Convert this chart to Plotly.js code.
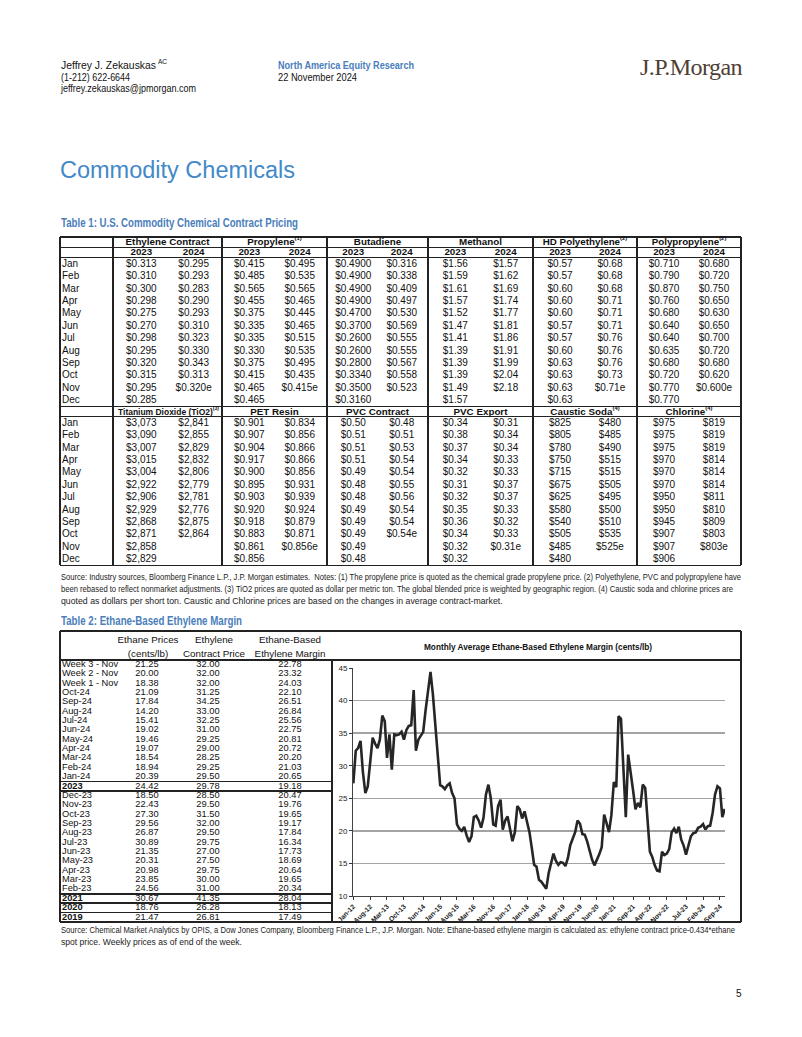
<!DOCTYPE html>
<html><head><meta charset="utf-8">
<script src="https://cdn.plot.ly/plotly-3.0.1.min.js"></script>
<style>
body{margin:0;background:#fff;width:802px;height:1037px;position:relative;overflow:hidden;
 font-family:"Liberation Sans Narrow","Arial Narrow","Liberation Sans",Arial,sans-serif;color:#111;}
.t{position:absolute;white-space:nowrap;line-height:1;}
.ln{position:absolute;background:#222;}
sup{font-size:60%;vertical-align:top;position:relative;top:-1px;}
</style></head><body>
<div id="page"></div>
<div id="chart" style="position:absolute;left:333px;top:661px;width:408px;height:264px;"></div>
<script>
// ---------------- DATA ----------------
const months = ["Jan","Feb","Mar","Apr","May","Jun","Jul","Aug","Sep","Oct","Nov","Dec"];
const yearsHdr = ["2023","2024"];
const topGroups = ["Ethylene Contract","Propylene<sup>(1)</sup>","Butadiene","Methanol","HD Polyethylene<sup>(2)</sup>","Polypropylene<sup>(2)</sup>"];
const bottomGroups = ["Titanium Dioxide (TiO2)<sup>(3)</sup>","PET Resin","PVC Contract","PVC Export","Caustic Soda<sup>(4)</sup>","Chlorine<sup>(4)</sup>"];

const ethylene2023 = ["$0.313","$0.310","$0.300","$0.298","$0.275","$0.270","$0.298","$0.295","$0.320","$0.315","$0.295","$0.285"];
const ethylene2024 = ["$0.295","$0.293","$0.283","$0.290","$0.293","$0.310","$0.323","$0.330","$0.343","$0.313","$0.320e",""];
const propylene2023 = ["$0.415","$0.485","$0.565","$0.455","$0.375","$0.335","$0.335","$0.330","$0.375","$0.415","$0.465","$0.465"];
const propylene2024 = ["$0.495","$0.535","$0.565","$0.465","$0.445","$0.465","$0.515","$0.535","$0.495","$0.435","$0.415e",""];
const butadiene2023 = ["$0.4900","$0.4900","$0.4900","$0.4900","$0.4700","$0.3700","$0.2600","$0.2600","$0.2800","$0.3340","$0.3500","$0.3160"];
const butadiene2024 = ["$0.316","$0.338","$0.409","$0.497","$0.530","$0.569","$0.555","$0.555","$0.567","$0.558","$0.523",""];
const methanol2023 = ["$1.56","$1.59","$1.61","$1.57","$1.52","$1.47","$1.41","$1.39","$1.39","$1.39","$1.49","$1.57"];
const methanol2024 = ["$1.57","$1.62","$1.69","$1.74","$1.77","$1.81","$1.86","$1.91","$1.99","$2.04","$2.18",""];
const hdpe2023 = ["$0.57","$0.57","$0.60","$0.60","$0.60","$0.57","$0.57","$0.60","$0.63","$0.63","$0.63","$0.63"];
const hdpe2024 = ["$0.68","$0.68","$0.68","$0.71","$0.71","$0.71","$0.76","$0.76","$0.76","$0.73","$0.71e",""];
const pp2023 = ["$0.710","$0.790","$0.870","$0.760","$0.680","$0.640","$0.640","$0.635","$0.680","$0.720","$0.770","$0.770"];
const pp2024 = ["$0.680","$0.720","$0.750","$0.650","$0.630","$0.650","$0.700","$0.720","$0.680","$0.620","$0.600e",""];

const tio2_2023 = ["$3,073","$3,090","$3,007","$3,015","$3,004","$2,922","$2,906","$2,929","$2,868","$2,871","$2,858","$2,829"];
const tio2_2024 = ["$2,841","$2,855","$2,829","$2,832","$2,806","$2,779","$2,781","$2,776","$2,875","$2,864","",""];
const pet2023 = ["$0.901","$0.907","$0.904","$0.917","$0.900","$0.895","$0.903","$0.920","$0.918","$0.883","$0.861","$0.856"];
const pet2024 = ["$0.834","$0.856","$0.866","$0.866","$0.856","$0.931","$0.939","$0.924","$0.879","$0.871","$0.856e",""];
const pvcContract2023 = ["$0.50","$0.51","$0.51","$0.51","$0.49","$0.48","$0.48","$0.49","$0.49","$0.49","$0.49","$0.48"];
const pvcContract2024 = ["$0.48","$0.51","$0.53","$0.54","$0.54","$0.55","$0.56","$0.54","$0.54","$0.54e","",""];
const pvcExport2023 = ["$0.34","$0.38","$0.37","$0.34","$0.32","$0.31","$0.32","$0.35","$0.36","$0.34","$0.32","$0.32"];
const pvcExport2024 = ["$0.31","$0.34","$0.34","$0.33","$0.33","$0.37","$0.37","$0.33","$0.32","$0.33","$0.31e",""];
const caustic2023 = ["$825","$805","$780","$750","$715","$675","$625","$580","$540","$505","$485","$480"];
const caustic2024 = ["$480","$485","$490","$515","$515","$505","$495","$500","$510","$535","$525e",""];
const chlorine2023 = ["$975","$975","$975","$970","$970","$970","$950","$950","$945","$907","$907","$906"];
const chlorine2024 = ["$819","$819","$819","$814","$814","$814","$811","$810","$809","$803","$803e",""];

const t2Labels = ["Week 3 - Nov","Week 2 - Nov","Week 1 - Nov","Oct-24","Sep-24","Aug-24","Jul-24","Jun-24","May-24","Apr-24","Mar-24","Feb-24","Jan-24","2023","Dec-23","Nov-23","Oct-23","Sep-23","Aug-23","Jul-23","Jun-23","May-23","Apr-23","Mar-23","Feb-23","2021","2020","2019"];
const t2Ethane = ["21.25","20.00","18.38","21.09","17.84","14.20","15.41","19.02","19.46","19.07","18.54","18.94","20.39","24.42","18.50","22.43","27.30","29.56","26.87","30.89","21.35","20.31","20.98","23.85","24.56","30.67","18.76","21.47"];
const t2Ethylene = ["32.00","32.00","32.00","31.25","34.25","33.00","32.25","31.00","29.25","29.00","28.25","29.25","29.50","29.78","28.50","29.50","31.50","32.00","29.50","29.75","27.00","27.50","29.75","30.00","31.00","41.35","26.28","26.81"];
const t2Margin = ["22.78","23.32","24.03","22.10","26.51","26.84","25.56","22.75","20.81","20.72","20.20","21.03","20.65","19.18","20.47","19.76","19.65","19.17","17.84","16.34","17.73","18.69","20.64","19.65","20.34","28.04","18.13","17.49"];
const t2Bold = ["2023","2021","2020","2019"];

// monthly average margin, Jan-12 .. Nov-24 (cents/lb)
const margin2012 = [27.3,32.3,32.7,33.8,29.0,25.8,26.8,31.0,34.3,33.4,32.7,34.0];
const margin2013 = [37.7,36.8,31.2,34.8,29.4,34.8,34.7,34.8,35.2,34.0,35.5,36.1];
const margin2014 = [36.2,41.6,32.3,34.0,34.5,35.2,38.5,41.5,44.4,41.0,36.0,31.0];
const margin2015 = [27.0,26.8,26.4,27.0,27.3,25.8,25.0,21.0,20.3,20.0,20.6,19.3];
const margin2016 = [18.3,19.2,22.1,22.3,21.6,20.5,22.0,25.6,27.1,25.0,21.0,20.8];
const margin2017 = [23.8,24.8,20.2,21.6,22.2,20.3,18.4,19.8,23.8,23.3,21.9,23.0];
const margin2018 = [21.5,19.8,17.5,14.8,14.5,12.5,12.2,11.6,11.1,13.5,15.2,16.5];
const margin2019 = [15.4,14.8,15.2,15.1,14.6,15.8,17.8,18.8,19.8,21.6,21.1,19.5];
const margin2020 = [19.4,18.3,17.0,15.6,14.7,15.5,16.4,17.5,22.5,21.2,19.8,22.4];
const margin2021 = [27.5,26.7,37.6,37.2,29.0,22.1,31.7,29.3,26.2,23.3,24.3,23.6];
const margin2022 = [27.1,26.6,22.5,16.8,16.0,14.7,13.9,13.8,16.8,16.3,16.5,17.2];
const margin2023 = [19.8,20.34,19.65,20.64,18.69,17.73,16.34,17.84,19.17,19.65,19.76,20.47];
const margin2024 = [20.65,21.03,20.20,20.72,20.81,22.75,25.56,26.84,26.51,22.10,23.38];
const tickLabels = ["Jan-12","Aug-12","Mar-13","Oct-13","Jun-14","Jan-15","Aug-15","Mar-16","Nov-16","Jun-17","Jan-18","Aug-18","Apr-19","Nov-19","Jun-20","Jan-21","Sep-21","Apr-22","Nov-22","Jul-23","Feb-24","Sep-24"];

// ---------------- PAGE ----------------
const page = document.getElementById('page');
function T(x, yc, html, o){
  o = o || {};
  const fs = o.fs || 10;
  const d = document.createElement('div');
  d.className = 't';
  d.innerHTML = html;
  d.style.fontSize = fs + 'px';
  if (o.family) d.style.fontFamily = o.family;
  if (o.bold) d.style.fontWeight = 'bold';
  if (o.color) d.style.color = o.color;
  if (o.ls) d.style.letterSpacing = o.ls;
  page.appendChild(d);
  d.style.top = (yc - fs*0.55) + 'px';
  let k = o.k;
  if (o.sx) k = o.sx / d.getBoundingClientRect().width;
  if (k){ // horizontal condensing factor
    const w = d.getBoundingClientRect().width * k;
    d.style.transformOrigin = '0 50%';
    d.style.transform = 'scaleX(' + k + ')';
    d.style.left = (o.center ? x - w/2 : x) + 'px';
    d._k = k;
  } else {
    d.style.left = x + 'px';
    if (o.center) d.style.transform = 'translateX(-50%)';
  }
  return d;
}
function L(x1, y1, x2, y2, w, c){
  const d = document.createElement('div');
  d.className = 'ln';
  w = w || 1;
  if (y1 === y2){ d.style.left = x1+'px'; d.style.top = (y1 - w/2)+'px'; d.style.width = (x2-x1)+'px'; d.style.height = w+'px'; }
  else { d.style.left = (x1 - w/2)+'px'; d.style.top = y1+'px'; d.style.width = w+'px'; d.style.height = (y2-y1)+'px'; }
  if (c) d.style.background = c;
  page.appendChild(d);
}
const BLUE = '#4a7ebb';
const SANS = '"Liberation Sans",Arial,sans-serif';

// header
T(61, 66, 'Jeffrey J. Zekauskas', {fs:10.5, sx:95});
T(158, 62.5, 'AC', {fs:6.5});
T(61, 77.5, '(1-212) 622-6644', {fs:10.5, sx:69});
T(61, 89, 'jeffrey.zekauskas@jpmorgan.com', {fs:10.5, sx:135});
T(278, 66, 'North America Equity Research', {fs:10.5, bold:true, color:BLUE, sx:136});
T(278, 77.5, '22 November 2024', {fs:10.5, sx:79});
T(640, 68, 'J.P.Morgan', {fs:24, family:'"Liberation Serif","DejaVu Serif",serif', color:'#4e3f36', ls:'-0.6px', sx:102});
T(60, 172, 'Commodity Chemicals', {fs:23.5, family:SANS, color:'#4389c8'});

// ----- Table 1 -----
T(61, 224, 'Table 1: U.S. Commodity Chemical Contract Pricing', {fs:12, bold:true, color:BLUE, sx:237});
const xb = [60, 113, 222, 327, 428, 533, 637, 741];
const t1Top = 237, gh = 247, yh = 257.5, rh = 12.4;
const upperEnd = yh + 12*rh;            // 406.3
const lowerHdrEnd = upperEnd + 10.2;    // 416.5
const t1Bottom = lowerHdrEnd + 12*rh;   // 565.3
const topCols = [[ethylene2023,ethylene2024],[propylene2023,propylene2024],[butadiene2023,butadiene2024],[methanol2023,methanol2024],[hdpe2023,hdpe2024],[pp2023,pp2024]];
const botCols = [[tio2_2023,tio2_2024],[pet2023,pet2024],[pvcContract2023,pvcContract2024],[pvcExport2023,pvcExport2024],[caustic2023,caustic2024],[chlorine2023,chlorine2024]];

L(60, t1Top, 741, t1Top, 1.6);
L(60, t1Bottom, 741, t1Bottom, 1.6);
xb.forEach((x,i)=> L(x, t1Top, x, t1Bottom, (i===1)?1.3:1.6));
L(60, gh, 741, gh, 1);
L(60, yh, 741, yh, 1.6);
L(60, upperEnd, 741, upperEnd, 1.6);
L(60, lowerHdrEnd, 741, lowerHdrEnd, 1);

for (let g=0; g<6; g++){
  const x0 = xb[g+1], x1 = xb[g+2], mid = (x0+x1)/2;
  const c1 = x0 + (x1-x0)*0.26, c2 = x0 + (x1-x0)*0.74;
  T(mid, (t1Top+gh)/2+0.5, topGroups[g], {fs:9.8, bold:true, center:true});
  T(c1, (gh+yh)/2+0.5, yearsHdr[0], {fs:9.8, bold:true, center:true});
  T(c2, (gh+yh)/2+0.5, yearsHdr[1], {fs:9.8, bold:true, center:true});
  if (g === 0) T(mid+1, (upperEnd+lowerHdrEnd)/2+0.5, bottomGroups[g], {fs:9.8, bold:true, center:true, sx:101});
  else T(mid, (upperEnd+lowerHdrEnd)/2+0.5, bottomGroups[g], {fs:9.8, bold:true, center:true});
  for (let r=0; r<12; r++){
    const yc = yh + rh*r + rh/2 + 0.5;
    T(c1, yc, topCols[g][0][r], {fs:10, center:true});
    if (topCols[g][1][r]) T(c2, yc, topCols[g][1][r], {fs:10, center:true});
    const yc2 = lowerHdrEnd + rh*r + rh/2 + 0.5;
    T(c1, yc2, botCols[g][0][r], {fs:10, center:true});
    if (botCols[g][1][r]) T(c2, yc2, botCols[g][1][r], {fs:10, center:true});
  }
}
for (let r=0; r<12; r++){
  T(62, yh + rh*r + rh/2 + 0.5, months[r], {fs:10});
  T(62, lowerHdrEnd + rh*r + rh/2 + 0.5, months[r], {fs:10});
}

// notes table 1
const NOTE = '#222';
T(61, 578, 'Source: Industry sources, Bloomberg Finance L.P., J.P. Morgan estimates.&nbsp; Notes: (1) The propylene price is quoted as the chemical grade propylene price. (2) Polyethylene, PVC and polypropylene have', {fs:9, color:NOTE, sx:680});
T(61, 590, 'been rebased to reflect nonmarket adjustments. (3) TiO2 prices are quoted as dollar per metric ton. The global blended price is weighted by geographic region. (4) Caustic soda and chlorine prices are', {fs:9, color:NOTE, sx:672});
T(61, 602, 'quoted as dollars per short ton. Caustic and Chlorine prices are based on the changes in average contract-market.', {fs:9, color:NOTE, k:0.97});

// ----- Table 2 -----
T(61, 622, 'Table 2: Ethane-Based Ethylene Margin', {fs:12, bold:true, color:BLUE, sx:181});
const t2Top = 631, t2Line = 660, t2Bottom = 922, t2rh = (t2Bottom - t2Line)/28;
L(60, t2Top, 741, t2Top, 1.6);
L(60, t2Bottom, 741, t2Bottom, 1.6);
L(60, t2Top, 60, t2Bottom, 1.6);
L(741, t2Top, 741, t2Bottom, 1.6);
L(60, t2Line, 741, t2Line, 1.4);
L(332, t2Line, 332, t2Bottom, 1.4);
T(148, 640, 'Ethane Prices', {fs:9.8, center:true});
T(148, 654.5, '(cents/lb)', {fs:9.8, center:true});
T(214, 640, 'Ethylene', {fs:9.8, center:true});
T(214, 654.5, 'Contract Price', {fs:9.8, center:true});
T(290, 640, 'Ethane-Based', {fs:9.8, center:true});
T(290, 654.5, 'Ethylene Margin', {fs:9.8, center:true});
T(424, 647, 'Monthly Average Ethane-Based Ethylene Margin (cents/lb)', {fs:9.8, bold:true, sx:228});
for (let r=0; r<t2Labels.length; r++){
  const top = t2Line + r*t2rh, yc = top + t2rh/2 + 0.3;
  const b = t2Bold.indexOf(t2Labels[r]) >= 0;
  T(62, yc, t2Labels[r], {fs:9.3, bold:b});
  T(147, yc, t2Ethane[r], {fs:9.3, center:true});
  T(208, yc, t2Ethylene[r], {fs:9.3, center:true});
  T(290, yc, t2Margin[r], {fs:9.3, center:true});
  if (b){ L(60, top, 332, top, 1.6); L(60, top+t2rh, 332, top+t2rh, 1.6); }
}

T(61, 931, 'Source: Chemical Market Analytics by OPIS, a Dow Jones Company, Bloomberg Finance L.P., J.P. Morgan. Note: Ethane-based ethylene margin is calculated as: ethylene contract price-0.434*ethane', {fs:9, color:NOTE, sx:674});
T(61, 942.5, 'spot price. Weekly prices as of end of the week.', {fs:9, color:NOTE, k:0.95});
T(736, 994, '5', {fs:10});

// ---------------- CHART ----------------
const marginMonthly = [].concat(margin2012,margin2013,margin2014,margin2015,margin2016,margin2017,margin2018,margin2019,margin2020,margin2021,margin2022,margin2023,margin2024);
const chartMonths = [];
for (let i=0; i<marginMonthly.length; i++){
  const y = 2012 + Math.floor(i/12), m = i%12 + 1;
  chartMonths.push(y + '-' + (m<10?'0':'') + m + '-01');
}
const monIdx = {Jan:1,Feb:2,Mar:3,Apr:4,May:5,Jun:6,Jul:7,Aug:8,Sep:9,Oct:10,Nov:11,Dec:12};
const tickDates = tickLabels.map(s => { const p = s.split('-'); const m = monIdx[p[0]]; return '20' + p[1] + '-' + (m<10?'0':'') + m + '-01'; });

Plotly.newPlot('chart', [{
  x: chartMonths, y: marginMonthly, type:'scatter', mode:'lines',
  line:{color:'#262626', width:2.6}, hoverinfo:'skip'
}], {
  width:408, height:264,
  margin:{l:20, r:16, t:7, b:29},
  paper_bgcolor:'rgba(0,0,0,0)', plot_bgcolor:'rgba(0,0,0,0)',
  showlegend:false,
  font:{family:'"Liberation Sans Narrow","Liberation Sans",Arial,sans-serif', color:'#222', size:8},
  xaxis:{type:'date', range:['2011-12-28','2024-11-04'], tickmode:'array', tickvals:tickDates, ticktext:tickLabels,
         tickangle:-45, tickfont:{size:6.8, weight:'bold'}, ticks:'outside', ticklen:3, tickcolor:'#333',
         showgrid:false, showline:true, linecolor:'#444', linewidth:1, zeroline:false},
  yaxis:{range:[10,45], tickmode:'linear', tick0:10, dtick:5, tickfont:{size:8}, ticks:'outside', ticklen:3, tickcolor:'#333',
         showline:true, linecolor:'#444', linewidth:1, gridcolor:'#a3a3a3', gridwidth:1.5, zeroline:false}
}, {staticPlot:true, displayModeBar:false});
</script>
</body></html>
